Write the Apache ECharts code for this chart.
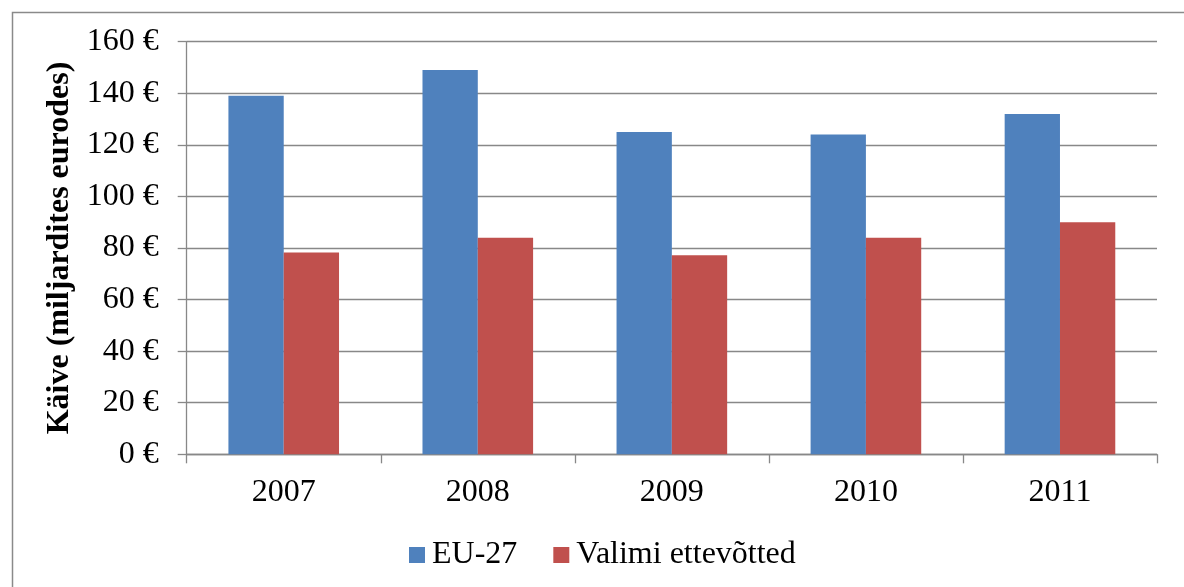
<!DOCTYPE html>
<html>
<head>
<meta charset="utf-8">
<script src="https://cdn.jsdelivr.net/npm/echarts@6/dist/echarts.min.js"></script>
<style>
html,body{margin:0;padding:0;background:#fff;}
#c{width:1184px;height:587px;}
</style>
</head>
<body>
<div id="c"></div>
<script>
const categories = ['2007', '2008', '2009', '2010', '2011'];
const seriesNames = ['EU-27', 'Valimi ettevõtted'];
const eu27 = [139, 149, 125, 124, 132];
const valimi = [78.3, 84, 77.2, 84, 90];
const yTicks = [0, 20, 40, 60, 80, 100, 120, 140, 160];
const yAxisTitle = 'Käive (miljardites eurodes)';

const FONT = '"Liberation Serif", "Times New Roman", serif';
const GRAY = '#888888';

const chart = echarts.init(document.getElementById('c'), null, {renderer: 'canvas'});
chart.setOption({
  animation: false,
  backgroundColor: '#ffffff',
  graphic: [{
    type: 'rect',
    left: 10, top: 10,
    shape: {width: 1200, height: 600},
    style: {fill: 'none', stroke: '#8a8a8a', lineWidth: 1.5},
    silent: true
  }],
  grid: {left: 186.7, right: 27, top: 41.7, bottom: 132.7, containLabel: false},
  legend: {
    data: seriesNames,
    left: 404,
    top: 534,
    icon: 'rect',
    itemWidth: 16,
    itemHeight: 16,
    itemGap: 36,
    textStyle: {fontFamily: FONT, fontSize: 32, color: '#000', padding: [0, 0, 0, 2]}
  },
  xAxis: {
    type: 'category',
    data: categories,
    axisLine: {lineStyle: {color: GRAY, width: 1.3}},
    axisTick: {show: true, length: 9, lineStyle: {color: GRAY, width: 1.3}},
    axisLabel: {fontFamily: FONT, fontSize: 32, color: '#000', margin: 22}
  },
  yAxis: {
    type: 'value',
    min: yTicks[0],
    max: yTicks[yTicks.length - 1],
    interval: 20,
    name: yAxisTitle,
    nameLocation: 'middle',
    nameGap: 110,
    nameRotate: 90,
    nameTextStyle: {fontFamily: FONT, fontSize: 32, fontWeight: 'bold', color: '#000'},
    axisLine: {show: true, lineStyle: {color: GRAY, width: 1.3}},
    axisTick: {show: true, length: 9, lineStyle: {color: GRAY, width: 1.3}},
    splitLine: {show: true, lineStyle: {color: GRAY, width: 1.3}},
    axisLabel: {fontFamily: FONT, fontSize: 32, color: '#000', margin: 28,
      formatter: v => v + ' €'}
  },
  series: [
    {name: seriesNames[0], type: 'bar', data: eu27, barGap: '0%', barCategoryGap: '43%',
     itemStyle: {color: '#4F81BD'}},
    {name: seriesNames[1], type: 'bar', data: valimi, barGap: '0%', barCategoryGap: '43%',
     itemStyle: {color: '#C0504D'}}
  ]
});
</script>
</body>
</html>
